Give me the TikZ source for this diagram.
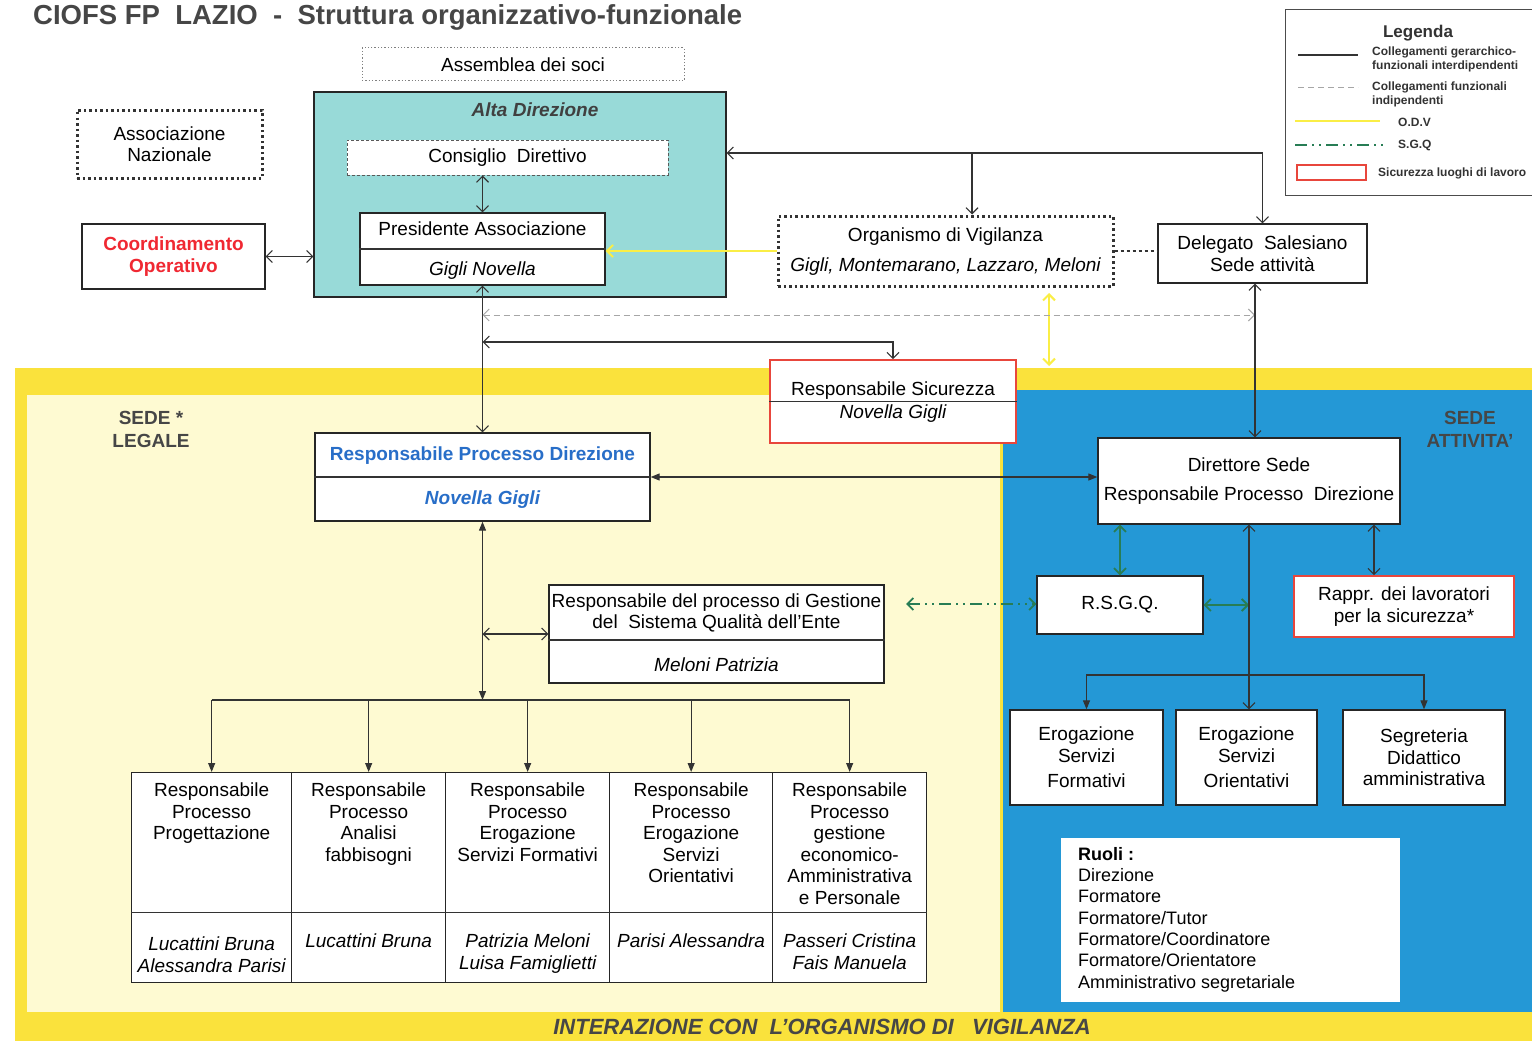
\documentclass[tikz,border=0pt]{standalone}
\usepackage{fontspec}
\setmainfont{Liberation Sans}
\usetikzlibrary{arrows.meta}

\definecolor{altateal}{RGB}{152,218,216}
\definecolor{bandyel}{RGB}{250,226,60}
\definecolor{paleyel}{RGB}{254,250,210}
\definecolor{sedeblue}{RGB}{36,152,214}
\definecolor{linkred}{RGB}{232,70,60}
\definecolor{coordred}{RGB}{240,40,50}
\definecolor{rpdblue}{RGB}{40,110,200}
\definecolor{odvyel}{RGB}{250,238,70}
\definecolor{sgqgreen}{RGB}{40,125,85}
\definecolor{zonegray}{RGB}{70,70,70}

\newcommand{\bodysize}{\fontsize{19}{21.5}\selectfont}

\tikzset{
  opn/.tip={Straight Barb[length=6pt,width=12pt]},
  fll/.tip={Triangle[length=9pt,width=7pt]},
  txt/.style={inner sep=0pt, align=center, font=\bodysize},
  box/.style={txt, draw=black!85, line width=1.3pt, fill=white},
  redbox/.style={box, draw=linkred, line width=1.8pt},
  dotbox/.style={box, draw=black!80, line width=3pt, dash pattern=on 2.5pt off 3pt},
  lnk/.style={draw=black!80, line width=1.1pt},
  odvlnk/.style={draw=odvyel, line width=2pt},
  sgqlnk/.style={draw=sgqgreen, line width=1.8pt},
  sgqdash/.style={dash pattern=on 12pt off 5pt on 2pt off 5pt on 2pt off 5pt},
  indlnk/.style={draw=black!35, line width=1pt, dash pattern=on 6pt off 4pt},
  zone/.style={inner sep=0pt, align=center, font=\fontsize{19}{23}\selectfont\bfseries, text=zonegray},
  lgd/.style={inner sep=0pt, align=left, anchor=west, font=\fontsize{12}{14}\selectfont\bfseries, text=black!80},
}

\begin{document}
\begin{tikzpicture}[x=1pt,y=-1pt]
    \useasboundingbox (0,0) rectangle (1532,1041);
    % zones
    \fill[white] (0,0) rectangle (1532,1041);
    \fill[bandyel] (15,368) rectangle (1532,1041);
    \fill[paleyel] (27,395) rectangle (1000,1012);
    \fill[sedeblue] (1003,390) rectangle (1532,1012);

    \node[zone, anchor=west, font=\fontsize{27.5}{30}\selectfont\bfseries] (ttl) at (33,17) {CIOFS FP\ \ LAZIO\ \ -\ \ Struttura organizzativo-funzionale};
    \node[zone] (slegale) at (151,429) {SEDE *\\LEGALE};
    \node[zone] (sattiv) at (1470,429) {SEDE\\ATTIVITA'};
    \node[zone, font=\fontsize{22}{24}\selectfont\bfseries\itshape] (inter) at (822,1027) {INTERAZIONE CON\ \ L'ORGANISMO DI\ \ \ VIGILANZA};

    % legenda
    \draw[black!70, line width=1pt] (1285,10) rectangle (1545,195);
    \node[font=\fontsize{17}{19}\selectfont\bfseries, text=black!80] (lgt) at (1418,33) {Legenda};
    \draw[lnk] (1298,55) -- (1358,55);
    \node[lgd] (lg1) at (1372,59) {Collegamenti gerarchico-\\funzionali interdipendenti};
    \draw[indlnk] (1298,88) -- (1358,88);
    \node[lgd] (lg2) at (1372,94) {Collegamenti funzionali\\indipendenti};
    \draw[odvlnk] (1295,121) -- (1380,121);
    \node[lgd] (lg3) at (1398,122) {O.D.V};
    \draw[sgqlnk, sgqdash] (1295,145) -- (1385,145);
    \node[lgd] (lg4) at (1398,145) {S.G.Q};
    \draw[draw=linkred, line width=1.5pt] (1297,165) rectangle (1366,180);
    \node[lgd] (lg5) at (1378,173) {Sicurezza luoghi di lavoro};

    % vertice
    \node[box, draw=black!50, dotted, line width=1pt, minimum width=322pt, minimum height=33pt] (assem) at (523,64.5) {Assemblea dei soci};
    \node[dotbox, minimum width=185pt, minimum height=68pt] (assoc) at (169.5,144) {Associazione\\Nazionale};
    \node[box, fill=altateal, minimum width=412pt, minimum height=205pt] (alta) at (520,194.5) {};
    \node[txt, font=\bodysize\bfseries\itshape, text=black!75] (altalbl) at (535,110) {Alta Direzione};
    \node[box, draw=black!65, line width=1pt, dash pattern=on 3pt off 2pt, minimum width=321pt, minimum height=35pt] (cons) at (507.5,157.5) {Consiglio\ \ Direttivo};
    \node[box, minimum width=245pt, minimum height=72pt] (pres) at (482.5,249) {};
    \draw[lnk] (pres.west) -- (pres.east);
    \node[txt] (prest) at (482.5,229) {Presidente Associazione};
    \node[txt, font=\bodysize\itshape] (presn) at (482.5,271) {Gigli Novella};
    \node[box, text=coordred, font=\bodysize\bfseries, minimum width=183pt, minimum height=65pt] (coord) at (173.5,256.5) {Coordinamento\\Operativo};
    \node[dotbox, minimum width=335pt, minimum height=70pt] (odv) at (945.5,251) {};
    \node[txt] (odvt) at (945.5,237) {Organismo di Vigilanza};
    \node[txt, font=\bodysize\itshape] (odvn) at (945.5,267) {Gigli, Montemarano, Lazzaro, Meloni};
    \node[box, minimum width=209pt, minimum height=59pt] (deleg) at (1262.5,253.5) {Delegato\ \ Salesiano\\Sede attività};
    \node[redbox, minimum width=246pt, minimum height=83pt] (sicur) at (893,401.5) {};
    \draw[lnk] (sicur.west) -- (sicur.east);
    \node[txt] (sicurt) at (893,391) {Responsabile Sicurezza};
    \node[txt, font=\bodysize\itshape] (sicurn) at (893,414) {Novella Gigli};

    % sede legale
    \coordinate (ty) at (0,783);
    \coordinate (ny) at (0,934);
    \coordinate (ny1) at (0,937);
    \node[box, minimum width=335pt, minimum height=88pt] (rpd) at (482.5,477) {};
    \draw[lnk] (rpd.west) -- (rpd.east);
    \node[txt, text=rpdblue, font=\bodysize\bfseries] (rpdt) at (482.5,456) {Responsabile Processo Direzione};
    \node[txt, text=rpdblue, font=\bodysize\bfseries\itshape] (rpdn) at (482.5,500) {Novella Gigli};
    \node[box, minimum width=335pt, minimum height=98pt] (rsq) at (716.5,634) {};
    \draw[lnk] ([yshift=-6pt]rsq.west) -- ([yshift=-6pt]rsq.east);
    \node[txt] (rsqt) at (716.5,613) {Responsabile del processo di Gestione\\del\ \ Sistema Qualità dell'Ente};
    \node[txt, font=\bodysize\itshape] (rsqn) at (716.5,665) {Meloni Patrizia};

    \node[box, minimum width=160pt, minimum height=210pt, anchor=north west] (c1) at (131,772) {};
    \node[box, minimum width=154pt, minimum height=210pt, anchor=north west] (c2) at (291,772) {};
    \node[box, minimum width=164pt, minimum height=210pt, anchor=north west] (c3) at (445,772) {};
    \node[box, minimum width=163pt, minimum height=210pt, anchor=north west] (c4) at (609,772) {};
    \node[box, minimum width=154pt, minimum height=210pt, anchor=north west] (c5) at (772,772) {};
    \draw[lnk] ([yshift=-35pt]c1.west) -- ([yshift=-35pt]c5.east);
    \node[txt, anchor=north] (t1) at (c1.north |- ty) {Responsabile\\Processo\\Progettazione};
    \node[txt, anchor=north] (t2) at (c2.north |- ty) {Responsabile\\Processo\\Analisi\\fabbisogni};
    \node[txt, anchor=north] (t3) at (c3.north |- ty) {Responsabile\\Processo\\Erogazione\\Servizi Formativi};
    \node[txt, anchor=north] (t4) at (c4.north |- ty) {Responsabile\\Processo\\Erogazione\\Servizi\\Orientativi};
    \node[txt, anchor=north] (t5) at (c5.north |- ty) {Responsabile\\Processo\\gestione\\economico-\\Amministrativa\\e Personale};
    \node[txt, anchor=north, font=\bodysize\itshape] (n1) at (c1.north |- ny1) {Lucattini Bruna\\Alessandra Parisi};
    \node[txt, anchor=north, font=\bodysize\itshape] (n2) at (c2.north |- ny) {Lucattini Bruna};
    \node[txt, anchor=north, font=\bodysize\itshape] (n3) at (c3.north |- ny) {Patrizia Meloni\\Luisa Famiglietti};
    \node[txt, anchor=north, font=\bodysize\itshape] (n4) at (c4.north |- ny) {Parisi Alessandra};
    \node[txt, anchor=north, font=\bodysize\itshape] (n5) at (c5.north |- ny) {Passeri Cristina\\Fais Manuela};

    % sede attivita
    \node[box, minimum width=302pt, minimum height=86pt] (dir) at (1249,481) {Direttore Sede\\[8pt]Responsabile Processo\ \ Direzione};
    \node[box, minimum width=166pt, minimum height=58pt] (rsgq) at (1120,605) {R.S.G.Q.};
    \node[redbox, minimum width=220pt, minimum height=61pt] (rappr) at (1404,606.5) {Rappr. dei lavoratori\\per la sicurezza*};
    \node[box, minimum width=153pt, minimum height=95pt] (esf) at (1086.5,757.5) {Erogazione\\Servizi\\[4pt]Formativi};
    \node[box, minimum width=141pt, minimum height=95pt] (eso) at (1246.5,757.5) {Erogazione\\Servizi\\[4pt]Orientativi};
    \node[box, minimum width=162pt, minimum height=95pt] (seg) at (1424,757.5) {Segreteria\\Didattico\\amministrativa};
    \node[fill=white, inner sep=0pt, minimum width=339pt, minimum height=164pt] (ruoli) at (1230.5,920) {};
    \node[txt, anchor=north west, align=left, font=\fontsize{18}{21.3}\selectfont] (ruolit) at (1078,847) {\textbf{Ruoli :}\\Direzione\\Formatore\\Formatore/Tutor\\Formatore/Coordinatore\\Formatore/Orientatore\\Amministrativo segretariale};

    % collegamenti
    \coordinate (j1) at (972,153);
    \coordinate (g1) at (482.5,315);
    \coordinate (g2) at (1255,315);
    \coordinate (h342) at (0,342);
    \coordinate (v1) at (1255,0);
    \coordinate (ya) at (1049,293);
    \coordinate (yb) at (1049,366);
    \coordinate (q1) at (906,604);
    \coordinate (r1) at (1374,0);
    \coordinate (h675) at (0,675);
    \coordinate (hb) at (0,700);

    \draw[lnk, opn-opn] (pres.north) -- (pres.north |- cons.south);
    \draw[lnk, opn-opn] (coord.east) -- (coord.east -| alta.west);
    \draw[lnk, opn-] (alta.east |- j1) -- (j1);
    \draw[lnk, -opn] (j1) -- (j1 |- odv.north);
    \draw[lnk, -opn] (j1) -- (j1 -| deleg.north) -- (deleg.north);
    \draw[lnk, dashed] (odv.east) -- (odv.east -| deleg.west);
    \draw[odvlnk, -opn] (odv.west) -- (odv.west -| pres.east);
    \draw[odvlnk, opn-opn] (ya) -- (yb);
    \draw[lnk, opn-opn] (pres.south) -- (pres.south |- rpd.north);
    \draw[indlnk, opn-opn] (g1) -- (g2);
    \draw[lnk, opn-opn] (pres.south |- h342) -- (sicur.north |- h342) -- (sicur.north);
    \draw[lnk, opn-opn] (deleg.south -| v1) -- (v1 |- dir.north);
    \draw[lnk, fll-fll] (rpd.east) -- (rpd.east -| dir.west);
    \draw[lnk, fll-fll] (rpd.south) -- (rpd.south |- hb);
    \draw[lnk] (c1.north |- hb) -- (c5.north |- hb);
    \foreach \c in {c1,c2,c3,c4,c5}
        \draw[lnk, -fll] (\c.north |- hb) -- (\c.north);
    \draw[lnk, opn-opn] (rpd.south |- rsq.west) -- (rsq.west);
    \draw[sgqlnk, sgqdash, opn-opn] (q1) -- (q1 -| rsgq.west);
    \draw[sgqlnk, opn-opn] (rsgq.north) -- (rsgq.north |- dir.south);
    \draw[sgqlnk, opn-opn] (rsgq.east) -- (rsgq.east -| dir.south);
    \draw[lnk, opn-opn] (dir.south) -- (dir.south |- eso.north);
    \draw[lnk, opn-opn] (dir.south -| r1) -- (rappr.north -| r1);
    \draw[lnk, fll-fll] (esf.north) -- (esf.north |- h675) -- (seg.north |- h675) -- (seg.north);
\end{tikzpicture}
\end{document}
